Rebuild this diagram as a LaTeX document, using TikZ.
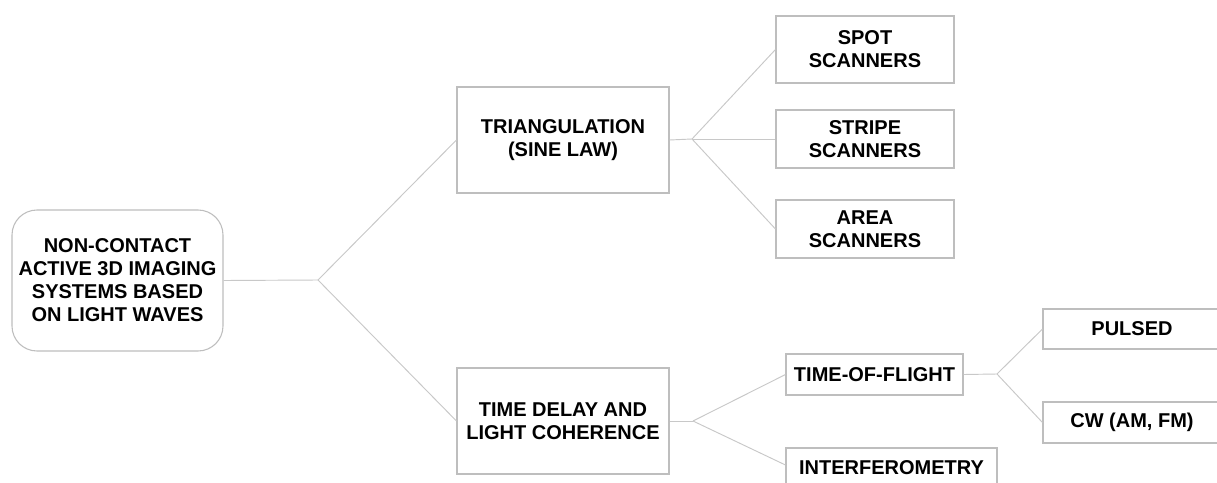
\documentclass[tikz,border=0pt]{standalone}
\usepackage{fontspec}
\setmainfont{Liberation Sans}
\definecolor{boxgray}{RGB}{190,190,190}
\definecolor{linegray}{RGB}{200,200,200}
\begin{document}
\begin{tikzpicture}[x=0.75pt,y=-0.75pt,
  box/.style={draw=boxgray,line width=0.8pt,fill=white,inner sep=0pt,align=center,
    font=\fontsize{15pt}{17.25pt}\selectfont\bfseries},
  conn/.style={draw=linegray,line width=0.7pt}]
\useasboundingbox (0,0) rectangle (1217,482);
\clip (0,0) rectangle (1217,482);
\fill[white] (0,0) rectangle (1217,482);
% nodes
\node[box,rounded corners=18.75pt,minimum width=158.25pt,minimum height=105.75pt] (root) at (117.5,280.5) {NON-CONTACT\\ACTIVE 3D IMAGING\\SYSTEMS BASED\\ON LIGHT WAVES};
\node[box,minimum width=159pt,minimum height=79.5pt] (tri) at (563,140) {TRIANGULATION\\(SINE LAW)};
\node[box,minimum width=159pt,minimum height=79.5pt] (td) at (563,421) {TIME DELAY AND\\LIGHT COHERENCE};
\node[box,minimum width=133.5pt,minimum height=50.25pt] (spot) at (865,49.5) {SPOT\\SCANNERS};
\node[box,minimum width=133.5pt,minimum height=43.5pt] (stripe) at (865,139) {STRIPE\\SCANNERS};
\node[box,minimum width=133.5pt,minimum height=43.5pt] (area) at (865,229) {AREA\\SCANNERS};
\node[box,minimum width=132.75pt,minimum height=30.75pt] (tof) at (874.5,374.5) {TIME-OF-FLIGHT};
\node[box,minimum width=158.25pt,minimum height=30pt] (interf) at (891.5,468) {INTERFEROMETRY};
\node[box,minimum width=133.5pt,minimum height=30pt] (pulsed) at (1132,329) {PULSED};
\node[box,minimum width=133.5pt,minimum height=30.75pt] (cw) at (1132,422.5) {CW (AM, FM)};
% branch points
\coordinate (b1) at (318,280);
\coordinate (b2) at (692,139);
\coordinate (b3) at (693,421);
\coordinate (b4) at (997,374);
% connectors
\draw[conn] (root.east) -- (b1);
\draw[conn] (b1) -- (tri.west);
\draw[conn] (b1) -- (td.west);
\draw[conn] (tri.east) -- (b2);
\draw[conn] (b2) -- (spot.west);
\draw[conn] (b2) -- (stripe.west);
\draw[conn] (b2) -- (area.west);
\draw[conn] (td.east) -- (b3);
\draw[conn] (b3) -- (tof.west);
\draw[conn] (b3) -- ([yshift=2.25pt]interf.west);
\draw[conn] (tof.east) -- (b4);
\draw[conn] (b4) -- (pulsed.west);
\draw[conn] (b4) -- (cw.west);
\end{tikzpicture}
\end{document}
